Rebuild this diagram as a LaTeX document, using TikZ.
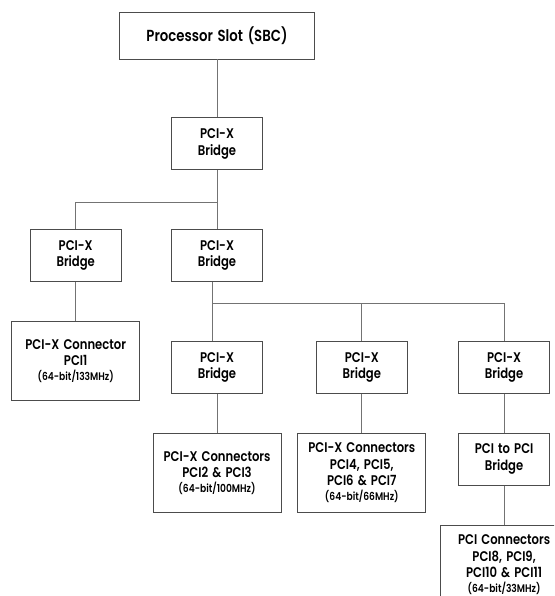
\documentclass[tikz,border=0pt]{standalone}
\usepackage{fontspec}
\setmainfont{Poppins}[UprightFont=* SemiBold, FakeStretch=0.83, WordSpace=1.5]
\usetikzlibrary{positioning, calc}
\newcommand{\speed}[1]{{\fontsize{11}{13}\selectfont #1}}

\begin{document}
\begin{tikzpicture}[
    x=1pt, y=-1pt,
    node distance=39pt,
    box/.style={draw=black!70, line width=0.8pt, align=center, inner sep=0pt,
                font=\fontsize{14}{16.5}\selectfont},
    bridge/.style={box, minimum width=91pt, minimum height=52pt},
    slot/.style={box, minimum width=128pt, minimum height=79pt},
    link/.style={draw=black!55, line width=0.8pt},
]
\clip (0,0) rectangle (554,596);
% Processor and first bridge
\node[box, minimum width=194.5pt, minimum height=47pt,
      font=\fontsize{16}{20}\selectfont] (proc) at (217,35.5) {Processor Slot (SBC)};
\node[bridge, below=58pt of proc]  (br0)  {PCI-X\\Bridge};

% Second level
\node[bridge, below=59pt of br0]   (brM)  {PCI-X\\Bridge};
\node[bridge, left=49.5pt of brM]  (brL)  {PCI-X\\Bridge};
\node[slot, below=of brL]          (pci1) {PCI-X Connector\\PCI1\\[-2pt]\speed{(64-bit/133MHz)}};

% Third level
\node[bridge, below=59pt of brM]   (brA)  {PCI-X\\Bridge};
\node[bridge, right=53pt of brA]   (brB)  {PCI-X\\Bridge};
\node[bridge, right=50.5pt of brB] (brC)  {PCI-X\\Bridge};

% Connectors
\node[slot, below=of brA] (pci23) {PCI-X Connectors\\PCI2 \& PCI3\\[-2pt]\speed{(64-bit/100MHz)}};
\node[slot, below=of brB] (pci47) {PCI-X Connectors\\PCI4, PCI5,\\PCI6 \& PCI7\\[-2pt]\speed{(64-bit/66MHz)}};
\node[bridge, below=of brC] (p2p) {PCI to PCI\\Bridge};
\node[slot, below=of p2p] (pci811) {PCI Connectors\\PCI8, PCI9,\\PCI10 \& PCI11\\[-2pt]\speed{(64-bit/33MHz)}};

% Junctions
\coordinate (j1) at ($(br0.south)+(0,-32pt)$);
\coordinate (j2) at ($(brM.south)+(-5pt,-21pt)$);

% Lines
\draw[link] (proc) -- (br0);
\draw[link] (br0) -- (brM);
\draw[link] (brL.north) |- (j1);
\draw[link] (brL) -- (pci1);
\draw[link] ($(brM.south)+(-5pt,0)$) -- ($(brA.north)+(-5pt,0)$);
\draw[link] (j2) -| (brB.north);
\draw[link] (j2) -| (brC.north);
\draw[link] (brA) -- (pci23);
\draw[link] (brB) -- (pci47);
\draw[link] (brC) -- (p2p);
\draw[link] (p2p) -- (pci811);
\end{tikzpicture}
\end{document}
